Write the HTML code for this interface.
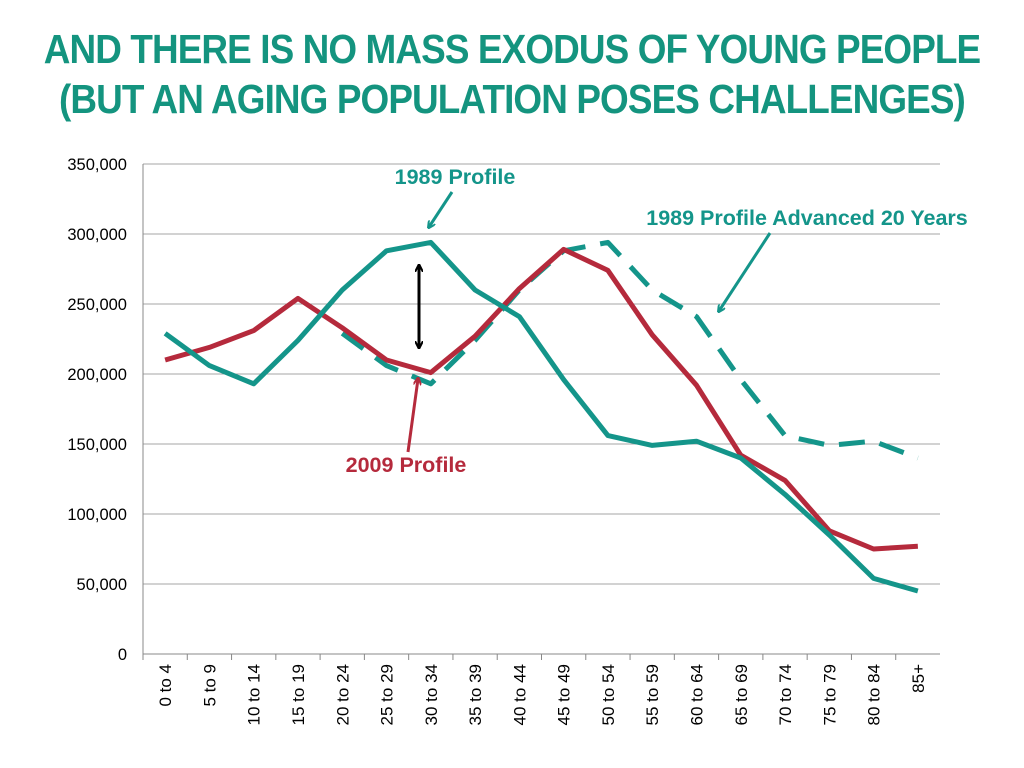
<!DOCTYPE html>
<html><head><meta charset="utf-8"><style>
body{margin:0;background:#fff;width:1024px;height:768px;overflow:hidden;font-family:"Liberation Sans",sans-serif}
.title{position:absolute;left:-100px;width:1224px;text-align:center;color:#14947f;font-weight:bold;font-size:41px;letter-spacing:-1px;line-height:50px;white-space:nowrap;transform:scaleX(0.9);transform-origin:center}
</style></head><body>
<div class="title" style="top:24px">AND THERE IS NO MASS EXODUS OF YOUNG PEOPLE<br>(BUT AN AGING POPULATION POSES CHALLENGES)</div>
<svg id="c" width="1024" height="768" style="position:absolute;left:0;top:0"></svg>
<script>
const categories=["0 to 4","5 to 9","10 to 14","15 to 19","20 to 24","25 to 29","30 to 34","35 to 39","40 to 44","45 to 49","50 to 54","55 to 59","60 to 64","65 to 69","70 to 74","75 to 79","80 to 84","85+"];
const profile1989=[229000,206000,193000,224000,260000,288000,294000,260000,241000,196000,156000,149000,152000,140000,114000,85000,54000,45000];
const profile2009=[210000,219000,231000,254000,233000,210000,201000,227000,261000,289000,274000,228000,192000,142000,124000,88000,75000,77000];
const advanced1989=[null,null,null,null,229000,206000,193000,224000,260000,288000,294000,260000,241000,196000,156000,149000,152000,140000];
const yTicks=[0,50000,100000,150000,200000,250000,300000,350000];
const ns="http://www.w3.org/2000/svg",svg=document.getElementById('c');
const L=143,R=940,T=164,B=654,yMax=350000;
const cw=(R-L)/categories.length;
const x=i=>L+cw*(i+0.5), y=v=>B-(v/yMax)*(B-T);
function mk(t,a,p){const e=document.createElementNS(ns,t);for(const k in a)e.setAttribute(k,a[k]);(p||svg).appendChild(e);return e;}
yTicks.forEach(v=>{
 const g=mk('line',{x1:L,x2:R,y1:y(v),y2:y(v),stroke:v===0?'#888':'#a6a6a6','stroke-width':1});
 
 
 const t=mk('text',{x:127,y:y(v)+6,'text-anchor':'end','font-size':16.5,fill:'#000'});
 t.textContent=v.toLocaleString('en-US');
 
 
});
const ax=mk('line',{x1:L,x2:L,y1:T,y2:B,stroke:'#888'});


categories.forEach((c,i)=>{
 const tk=mk('line',{x1:L+cw*i,x2:L+cw*i,y1:B,y2:B+6,stroke:'#888'});
 
 
 const t=mk('text',{x:0,y:0,'text-anchor':'end','font-size':17,transform:`translate(${x(i)+6},664) rotate(-90)`});
 t.textContent=c;
 
 
});
function line(data,color,dash,name){
 const pts=[];data.forEach((v,i)=>{if(v!==null)pts.push(x(i)+','+y(v));});
 const p=mk('polyline',{points:pts.join(' '),fill:'none',stroke:color,'stroke-width':5,'stroke-linejoin':'round'});
 if(dash)p.setAttribute('stroke-dasharray',dash);
 
 
}
line(advanced1989,'#14958a','26,15','series-1989-advanced');
line(profile2009,'#b52a3c',null,'series-2009');
line(profile1989,'#14958a',null,'series-1989');
const defs=mk('defs',{});
[['ah','#14958a'],['ar','#b52a3c'],['ak','#000']].forEach(([id,c])=>{
 const m=mk('marker',{id,markerWidth:8,markerHeight:8,refX:6,refY:4,orient:'auto-start-reverse',markerUnits:'userSpaceOnUse'},defs);
 mk('path',{d:'M0,0 L8,4 L0,8',fill:'none',stroke:c,'stroke-width':2},m);
});
function arrow(x1,y1,x2,y2,c,m,name,both){
 const a=mk('line',{x1,y1,x2,y2,stroke:c,'stroke-width':3,'marker-end':`url(#${m})`});
 if(both)a.setAttribute('marker-start',`url(#${m})`);
 
 
}
function label(tx,ty,s,c,name,fs){
 const t=mk('text',{x:tx,y:ty,'text-anchor':'middle','font-size':fs,'font-weight':'bold',fill:c});
 t.textContent=s;
 
 
}
label(455,184,'1989 Profile','#14958a','label-1989',21.5);
arrow(452,192,429,227,'#14958a','ah','arrow-1989');
label(807,225,'1989 Profile Advanced 20 Years','#14958a','label-1989-advanced',21.5);
arrow(770,233,719,311,'#14958a','ah','arrow-1989-advanced');
label(406,472,'2009 Profile','#b52a3c','label-2009',21.5);
arrow(408,452,418,379,'#b52a3c','ar','arrow-2009');
arrow(419,266,419,347,'#000','ak','gap-arrow',true);
</script>
</body></html>
